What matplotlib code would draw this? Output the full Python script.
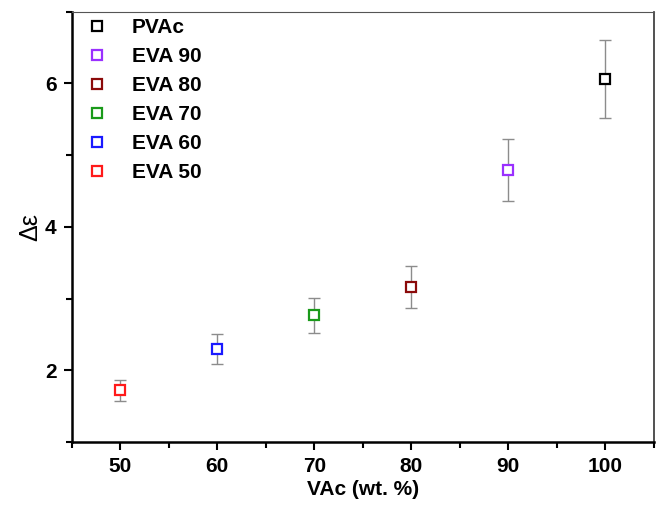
import matplotlib
matplotlib.use("Agg")
import matplotlib.pyplot as plt
from matplotlib.ticker import MultipleLocator

plt.rcParams['font.family'] = ['Liberation Sans', 'DejaVu Sans']

# data
labels = ["PVAc", "EVA 90", "EVA 80", "EVA 70", "EVA 60", "EVA 50"]
vac = [100, 90, 80, 70, 60, 50]
delta_eps = [6.06, 4.79, 3.16, 2.77, 2.30, 1.72]
err_up = [0.55, 0.43, 0.29, 0.24, 0.21, 0.15]
err_down = [0.54, 0.43, 0.29, 0.25, 0.21, 0.15]
colors = ["black", "#9a30ff", "#8b0a0a", "#1a9a1a", "#1a1aff", "#ff1a1a"]

fig = plt.figure(figsize=(6.59, 5.11), dpi=100)
ax = fig.add_axes([0.109, 0.135, 0.883, 0.842])

for i in range(len(labels)):
    ax.errorbar(vac[i], delta_eps[i], yerr=[[err_down[i]], [err_up[i]]],
                fmt="none", ecolor="#8c8c8c", elinewidth=1, capsize=4, capthick=1)
    ax.plot(vac[i], delta_eps[i], "s", markersize=7.5, markerfacecolor="white",
            markeredgecolor=colors[i], markeredgewidth=1.6, label=labels[i])

ax.set_xlim(45, 105)
ax.set_ylim(1, 7)
ax.xaxis.set_major_locator(MultipleLocator(10))
ax.xaxis.set_minor_locator(MultipleLocator(5))
ax.yaxis.set_major_locator(MultipleLocator(2))
ax.yaxis.set_minor_locator(MultipleLocator(1))
ax.tick_params(which="major", direction="out", length=6, width=1.5, labelsize=15, pad=5)
ax.tick_params(which="minor", direction="out", length=4, width=1.5)
ax.tick_params(top=False, right=False)
for lab in ax.get_xticklabels() + ax.get_yticklabels():
    lab.set_fontweight("bold")

ax.spines["left"].set_linewidth(1.8)
ax.spines["bottom"].set_linewidth(1.8)
ax.spines["top"].set_linewidth(0.8)
ax.spines["right"].set_linewidth(1.2)
ax.spines["top"].set_color("#555555")
ax.spines["right"].set_color("#333333")

ax.set_xlabel("VAc (wt. %)", fontsize=15, fontweight="bold", labelpad=3)
ax.set_ylabel("Δε", fontsize=18, labelpad=2)

ax.legend(loc="upper left", frameon=False, prop={"weight": "bold", "size": 15},
          handlelength=1.0, handletextpad=1.17, labelspacing=0.48,
          borderaxespad=0, bbox_to_anchor=(0.011, 1.005))

fig.savefig("out.png", dpi=100)
